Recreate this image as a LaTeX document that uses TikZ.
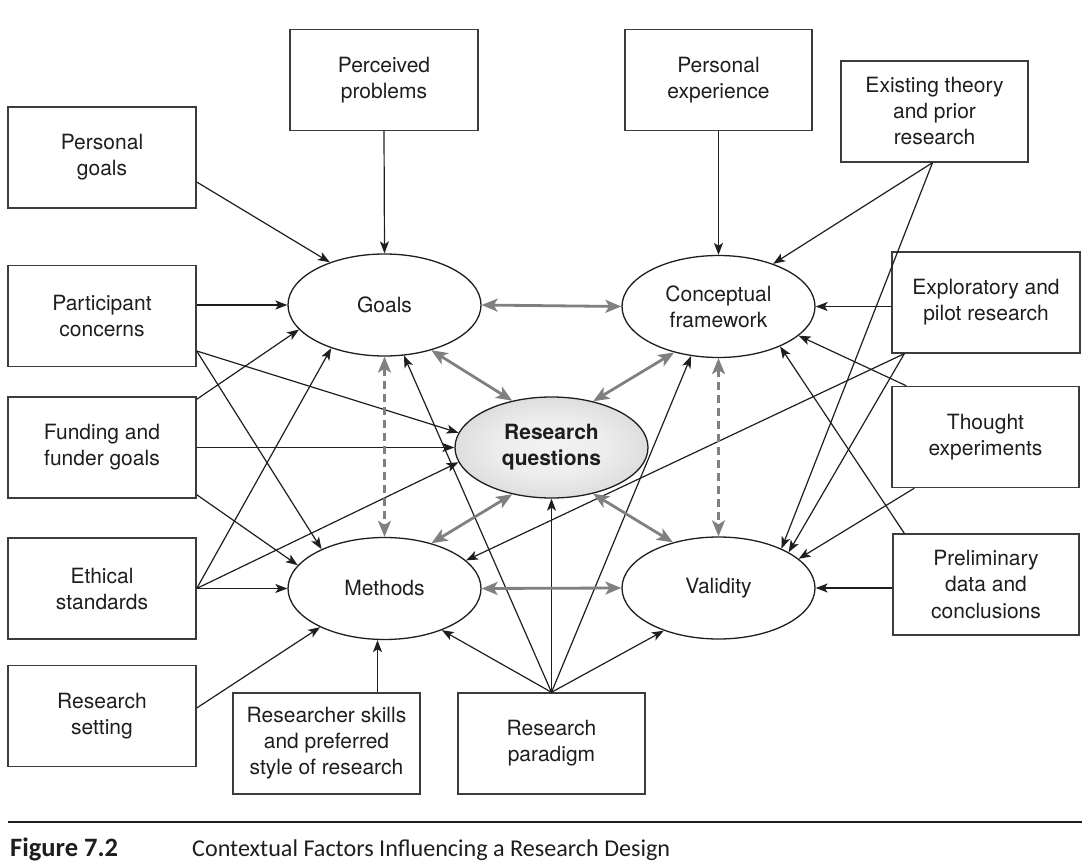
\documentclass[tikz,border=0pt]{standalone}
\usepackage{fontspec}
\setmainfont{TeX Gyre Heros}
\newfontfamily\capfont{Carlito}
\usetikzlibrary{arrows.meta,shapes.geometric,calc}
\definecolor{ink}{HTML}{1E1E1E}
\definecolor{boxline}{HTML}{3C3C3C}
\definecolor{garrow}{HTML}{808080}
\pgfdeclareradialshading{rqshade}{\pgfpoint{0bp}{0bp}}{rgb(0bp)=(0.95,0.95,0.95); rgb(14bp)=(0.93,0.93,0.93); rgb(50bp)=(0.73,0.73,0.73); rgb(100bp)=(0.73,0.73,0.73)}
\begin{document}
\begin{tikzpicture}[x=1pt,y=-1pt,
  factor/.style={draw=boxline,line width=1.4pt,minimum width=188pt,minimum height=101pt,
    inner sep=0pt,align=center,text=ink,font=\fontsize{21}{26}\selectfont},
  core/.style={ellipse,draw=ink,line width=1.3pt,minimum width=193pt,minimum height=102pt,
    inner sep=0pt,align=center,text=ink,font=\fontsize{21}{26}\selectfont},
  arr/.style={draw=ink,line width=1.2pt,-{Stealth[length=12pt,width=9pt,inset=3pt]}},
  garr/.style={draw=garrow,line width=2.8pt,{Stealth[length=16pt,width=13pt,inset=4pt]}-{Stealth[length=16pt,width=13pt,inset=4pt]}},
  gdash/.style={garr,dash pattern=on 8pt off 5pt}
]
\useasboundingbox (0,0) rectangle (1092,866);

% central ellipses
\node[core] (G) at (384.5,305) {Goals};
\node[core] (C) at (718.5,306.5) {Conceptual\\framework};
\node[core,shading=rqshade,font=\fontsize{21}{26}\selectfont\bfseries,minimum width=193pt,minimum height=101pt] (R) at (551.5,447.5) {Research\\questions};
\node[core] (M) at (384.5,588.5) {Methods};
\node[core] (V) at (718.5,588) {Validity};

% factor boxes
\node[factor] (pg) at (102,157.5) {Personal\\goals};
\node[factor] (pp) at (384,80) {Perceived\\problems};
\node[factor,minimum width=187pt] (pe) at (718.5,80) {Personal\\experience};
\node[factor,minimum width=187pt] (et) at (934.5,111.5) {Existing theory\\and prior\\research};
\node[factor] (pc) at (102,316) {Participant\\concerns};
\node[factor] (fu) at (102,447.5) {Funding and\\funder goals};
\node[factor] (es) at (102,588.5) {Ethical\\standards};
\node[factor] (rs) at (102,716) {Research\\setting};
\node[factor,minimum width=187pt] (sk) at (326.5,743.5) {Researcher skills\\and preferred\\style of research};
\node[factor,minimum width=187pt] (rp) at (551.5,743.5) {Research\\paradigm};
\node[factor] (ex) at (986,302.5) {Exploratory and\\pilot research};
\node[factor,minimum width=187pt] (th) at (985.5,437) {Thought\\experiments};
\node[factor,minimum width=186pt] (pd) at (986,584.5) {Preliminary\\data and\\conclusions};

% black influences
\draw[arr] ([yshift=-24.5pt]pg.east) -- (G.142);
\draw[arr] (pp.south) -- (G.north);
\draw[arr] (pe.south) -- (C.north);
\draw[arr] ([xshift=-2pt]et.south) -- (C.38);
\draw[arr] ([xshift=-2pt]et.south) -- (V.32);
\draw[arr] (C.east -| ex.west) -- (C.east);
\draw[arr] ([xshift=13pt]ex.south west) -- (V.27);
\draw[arr] ([xshift=13pt]ex.south west) -- (M.19);
\draw[arr] ([xshift=15pt]th.north west) -- (C.340);
\draw[arr] ([xshift=23pt]th.south west) -- (V.20);
\draw[arr] (V.east -| pd.west) -- (V.east);
\draw[arr] ([xshift=12pt]pd.north west) -- (C.327);
\draw[arr] (G.west -| pc.east) -- (G.west);
\draw[arr] ([yshift=-35pt]pc.east) -- (R.171);
\draw[arr] ([yshift=-35pt]pc.east) -- (M.148);
\draw[arr] ([yshift=-3pt]fu.north east) -- (G.196);
\draw[arr] (R.west -| fu.east) -- (R.west);
\draw[arr] ([yshift=4pt]fu.south east) -- (M.165);
\draw[arr] (es.east) -- (G.219);
\draw[arr] (es.east) -- (R.189);
\draw[arr] (es.east) -- (M.west);
\draw[arr] ([yshift=8pt]rs.east) -- (M.211);
\draw[arr] ([xshift=51pt]sk.north) -- ([xshift=-7pt]M.south);
\draw[arr] (rp.north) -- (G.291);
\draw[arr] (rp.north) -- (M.324);
\draw[arr] (rp.north) -- (R.south);
\draw[arr] (rp.north) -- (C.241);
\draw[arr] (rp.north) -- (V.218);

% grey interactions
\draw[garr] (G.east) -- (C.west);
\draw[garr] (M.east) -- (V.west);
\draw[garr] (G.316) -- (R.130);
\draw[garr] (C.226) -- (R.48);
\draw[garr] (M.44) -- (R.230);
\draw[garr] (V.135) -- (R.312);
\draw[gdash] (G.south) -- (M.north);
\draw[gdash] (C.south) -- (V.north);

% caption
\coordinate (rl) at (8,822);
\coordinate (rr) at (1082,822);
\draw[line width=1.2pt,ink] (rl) -- (rr);
\node[anchor=base west,inner sep=0pt,text=ink] (fig) at (10,856) {\resizebox{108pt}{!}{\capfont\bfseries Figure 7.2}};
\node[anchor=base west,inner sep=0pt,text=ink] (cap) at (192,856) {\resizebox{478pt}{!}{\capfont Contextual Factors Influencing a Research Design}};
\end{tikzpicture}
\end{document}
